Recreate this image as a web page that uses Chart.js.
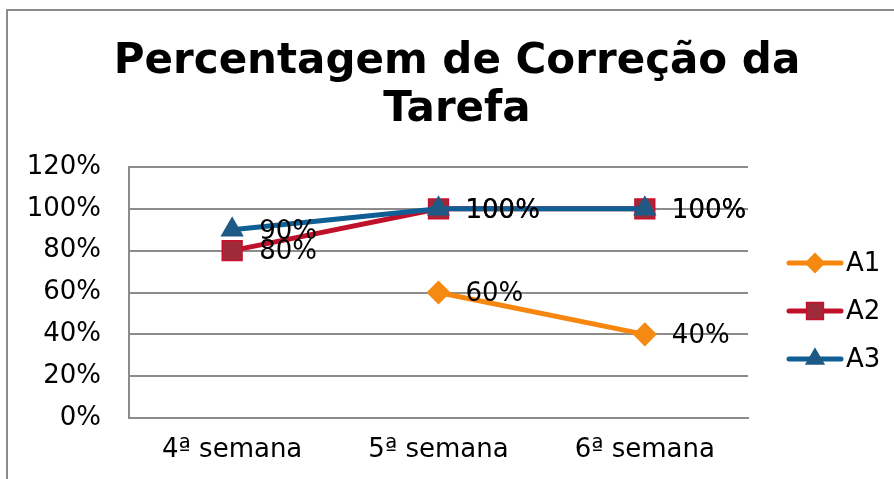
<!DOCTYPE html>
<html>
<head>
<meta charset="utf-8">
<script src="https://cdn.jsdelivr.net/npm/chart.js@4/dist/chart.umd.min.js"></script>
<style>
  body { margin: 0; background: #fff; }
  canvas { display: block; }
</style>
</head>
<body>
<canvas id="chart" width="894" height="479"></canvas>
<script>
const titleLines = ['Percentagem de Correção da', 'Tarefa'];
const weeks = ['4ª semana', '5ª semana', '6ª semana'];
const a1 = [null, 60, 40];
const a2 = [80, 100, 100];
const a3 = [90, 100, 100];
const yTicks = [0, 20, 40, 60, 80, 100, 120];

const FONT = '"DejaVu Sans", Verdana, sans-serif';
const GRID = '#8c8c8c';

const series = [
    { label: 'A1', data: a1, line: '#f7860f', fill: '#f58a12', stroke: '#f58a12', style: 'rectRot', r: 11, order: 2 },
    { label: 'A2', data: a2, line: '#c0102a', fill: '#9e2a3a', stroke: '#c8102e', style: 'rect', r: 14, order: 1 },
    { label: 'A3', data: a3, line: '#0f5f94', fill: '#1f5a85', stroke: '#1f5a85', style: 'triangle', r: 12, order: 0 }
];

// frame, title, value labels and legend
const extras = {
    id: 'extras',
    beforeDraw(chart) {
        const ctx = chart.ctx;
        ctx.save();
        ctx.strokeStyle = GRID;
        ctx.lineWidth = 2;
        ctx.strokeRect(7, 10, 1000, 600);
        ctx.fillStyle = '#000';
        ctx.font = 'bold 42px ' + FONT;
        ctx.textAlign = 'center';
        ctx.textBaseline = 'alphabetic';
        titleLines.forEach((t, i) => ctx.fillText(t, 457, 73 + i * 48));
        ctx.restore();
    },
    afterDatasetsDraw(chart) {
        const ctx = chart.ctx;
        ctx.save();
        ctx.fillStyle = '#000';
        ctx.font = '26px ' + FONT;
        ctx.textAlign = 'left';
        ctx.textBaseline = 'middle';
        chart.data.datasets.forEach((ds, i) => {
            chart.getDatasetMeta(i).data.forEach((pt, j) => {
                if (ds.data[j] == null) return;
                ctx.fillText(ds.data[j] + '%', pt.x + 27, pt.y + 2);
            });
        });
        // legend
        const x0 = chart.chartArea.right + 39;
        series.forEach((s, i) => {
            const y = 263 + i * 48;
            ctx.strokeStyle = s.line;
            ctx.lineWidth = 5;
            ctx.lineCap = 'round';
            ctx.beginPath();
            ctx.moveTo(x0 + 2, y);
            ctx.lineTo(x0 + 54, y);
            ctx.stroke();
            ctx.fillStyle = s.fill;
            ctx.strokeStyle = s.stroke;
            ctx.lineWidth = 1.5;
            Chart.helpers.drawPoint(ctx, { pointStyle: s.style, radius: s.r * 0.85, rotation: 0, borderWidth: 1.5 }, x0 + 28, y);
            ctx.fillStyle = '#000';
            ctx.fillText(s.label, x0 + 59, y + 1);
        });
        ctx.restore();
    }
};

new Chart(document.getElementById('chart'), {
    type: 'line',
    data: {
        labels: weeks,
        datasets: series.map(s => ({
            label: s.label,
            data: s.data,
            order: s.order,
            borderColor: s.line,
            borderWidth: 5,
            backgroundColor: s.fill,
            pointStyle: s.style,
            pointRadius: s.r,
            pointHoverRadius: s.r,
            pointBackgroundColor: s.fill,
            pointBorderColor: s.stroke,
            pointBorderWidth: 1.5,
            spanGaps: false,
            tension: 0
        }))
    },
    options: {
        responsive: false,
        animation: false,
        layout: { padding: { top: 167, left: 0, right: 146, bottom: 0 } },
        plugins: {
            legend: { display: false },
            title: { display: false },
            tooltip: { enabled: false }
        },
        scales: {
            x: {
                offset: true,
                grid: { display: false, drawTicks: false },
                border: { display: true, color: GRID, width: 2 },
                ticks: { color: '#000', font: { family: FONT, size: 26 }, padding: 17, maxRotation: 0 },
                afterFit: s => { s.height = 61; }
            },
            y: {
                min: 0,
                max: 120,
                afterBuildTicks: s => { s.ticks = yTicks.map(v => ({ value: v })); },
                grid: { color: GRID, lineWidth: 2, drawTicks: false },
                border: { display: true, color: GRID, width: 2 },
                ticks: { color: '#000', font: { family: FONT, size: 26 }, padding: 28, callback: v => v + '%' },
                afterFit: s => { s.width = 129; }
            }
        }
    },
    plugins: [extras]
});
</script>
</body>
</html>
